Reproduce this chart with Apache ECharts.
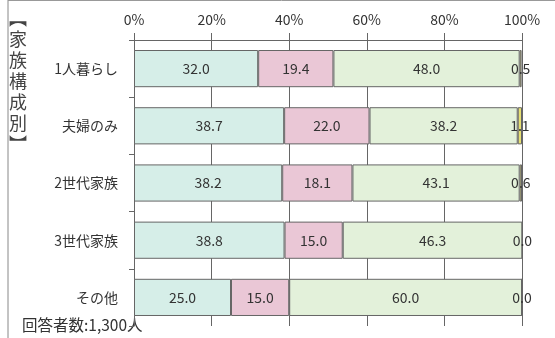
<!DOCTYPE html>
<html>
<head>
<meta charset="utf-8">
<script src="https://cdn.jsdelivr.net/npm/echarts@6/dist/echarts.min.js"></script>
<style>
  html, body { margin: 0; padding: 0; background: #fff; }
  #chart { width: 555px; height: 338px; }
</style>
</head>
<body>
<div id="chart"></div>
<script>
// Household composition vs. answer share (%)
const categories = ['1人暮らし', '夫婦のみ', '2世代家族', '3世代家族', 'その他'];
const seriesA = [32.0, 38.7, 38.2, 38.8, 25.0];
const seriesB = [19.4, 22.0, 18.1, 15.0, 15.0];
const seriesC = [48.0, 38.2, 43.1, 46.3, 60.0];
const seriesD = [0.5, 1.1, 0.6, 0.0, 0.0];
const tickLabels = ['0%', '20%', '40%', '60%', '80%', '100%'];

const FONT = '"Noto Sans CJK JP", "Noto Sans", sans-serif';
const LINE = '#666';

function barSeries(name, data, color) {
  return {
    name: name,
    type: 'bar',
    stack: 'total',
    data: data,
    clip: false,
    barCategoryGap: '35%',
    itemStyle: { color: color, borderColor: LINE, borderWidth: 1 },
    label: {
      show: true,
      position: 'inside',
      color: '#333',
      fontSize: 14,
      fontFamily: FONT,
      formatter: p => p.value.toFixed(1)
    },
    labelLayout: { hideOverlap: false },
    emphasis: { disabled: true }
  };
}

const chart = echarts.init(document.getElementById('chart'), null, { renderer: 'canvas' });
chart.setOption({
  animation: false,
  backgroundColor: '#fff',
  grid: { left: 134, right: 33, top: 40, bottom: 12, containLabel: false },
  xAxis: {
    type: 'value',
    position: 'top',
    min: 0,
    max: 100,
    interval: 20,
    axisLine: { show: true, lineStyle: { color: LINE, width: 1 } },
    axisTick: { show: true, length: 7, lineStyle: { color: LINE } },
    axisLabel: {
      color: '#333',
      fontSize: 14,
      fontFamily: FONT,
      margin: 13,
      formatter: v => tickLabels[Math.round(v / 20)]
    },
    splitLine: { show: true, lineStyle: { color: LINE, width: 1 } }
  },
  yAxis: {
    type: 'category',
    inverse: true,
    data: categories,
    axisLine: { show: true, lineStyle: { color: LINE, width: 1 } },
    axisTick: { show: true, length: 5, lineStyle: { color: LINE } },
    axisLabel: { color: '#333', fontSize: 14, fontFamily: FONT, margin: 16 }
  },
  series: [
    barSeries('A', seriesA, '#d6eee8'),
    barSeries('B', seriesB, '#eac7d6'),
    barSeries('C', seriesC, '#e3f1da'),
    barSeries('D', seriesD, '#e6df72')
  ],
  graphic: [
    { type: 'line', shape: { x1: 8, y1: 0, x2: 8, y2: 338 }, style: { stroke: '#888', lineWidth: 1 } },
    { type: 'line', shape: { x1: 8, y1: 0.5, x2: 555, y2: 0.5 }, style: { stroke: '#999', lineWidth: 1 } },
    {
      type: 'text', x: 18, y: 8,
      style: {
        text: '︻\n家\n族\n構\n成\n別\n︼',
        fill: '#444', fontSize: 18, lineHeight: 21, fontFamily: FONT, align: 'center'
      }
    },
    {
      type: 'text', left: 22, top: 317,
      style: { text: '回答者数:1,300人', fill: '#333', fontSize: 15.5, fontFamily: FONT }
    }
  ]
});
</script>
</body>
</html>
